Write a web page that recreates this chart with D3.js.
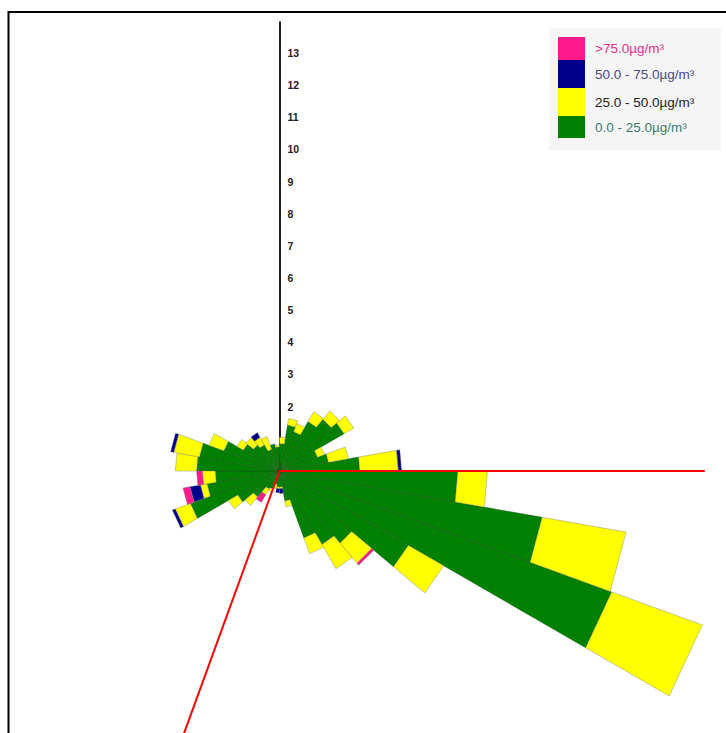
<!DOCTYPE html>
<html>
<head>
<meta charset="utf-8">
<script src="https://cdn.jsdelivr.net/npm/d3@7"></script>
<style>
  html, body { margin: 0; padding: 0; background: #fff; }
  svg { display: block; }
</style>
</head>
<body>
<svg id="chart" width="726" height="733"></svg>
<script>
// ---- Data (bearing of sector start, degrees; 10° sectors) ----
const bearings = d3.range(0, 360, 10);
// frequency per concentration class, stacked outward
const green   = [0.85,1.45,1.3,1.78,2.1,2.32,1.26,1.55,2.5,5.55,8.3,11.0,4.63,2.93,2.64,2.22,0.95,0.5,0.5,0.42,0.6,0.65,1.06,1.5,2.95,2.29,2.0,2.58,2.53,1.84,1.3,1.06,0.94,0.72,0.85,0.75];
const yellow  = [0.2,0.21,0.27,0.35,0.34,0.35,0.23,0.63,1.2,0.92,2.65,3.0,1.27,0.82,0.87,0.52,0.18,0.05,0.05,0.14,0.1,0.2,0.34,0.33,0.5,0.21,0.4,0.66,0.81,0.5,0.23,0.3,0.27,0.42,0,0.05];
const blue    = [0,0,0,0,0,0,0,0,0.1,0,0,0,0,0,0,0,0,0.15,0.13,0,0,0,0,0,0.1,0.33,0,0,0.1,0,0,0,0.17,0,0,0];
const magenta = [0,0,0,0,0,0,0,0,0,0,0,0,0,0.08,0,0,0,0,0,0,0,0.28,0,0,0,0.22,0.18,0,0,0,0,0,0,0,0,0];
const seriesNames  = ["0.0 - 25.0µg/m³", "25.0 - 50.0µg/m³", "50.0 - 75.0µg/m³", ">75.0µg/m³"];
const seriesColors = ["#008000", "#ffff00", "#00008b", "#ff1a8c"];
const legendTextColors = ["#3a7d6a", "#222222", "#4a4a8a", "#e8308a"];
const tickValues = d3.range(2, 14);
const refLines = [{bearing: 90, length: 13.23}, {bearing: 200, length: 14}];

// ---- Layout ----
const cx = 279.5, cy = 471;
const maxR = 14;
const r = d3.scaleLinear().domain([0, maxR]).range([0, 450]);
const sectorWidth = 10;

const svg = d3.select("#chart");

// frame
svg.append("rect")
  .attr("x", 8.5).attr("y", 12).attr("width", 760).attr("height", 760)
  .attr("fill", "none").attr("stroke", "#000").attr("stroke-width", 2);

// vertical radial axis
const y = d3.scaleLinear().domain([0, maxR]).range([cy, cy - r(maxR)]);
const axis = d3.axisRight(y).tickValues(tickValues).tickSize(0).tickSizeOuter(0).tickPadding(8)
  .tickFormat(d3.format("d"));
const gAxis = svg.append("g").attr("transform", `translate(${cx},0)`).call(axis);
gAxis.select(".domain").attr("stroke", "#222").attr("stroke-width", 2);
gAxis.selectAll("text")
  .attr("font-family", "'Liberation Sans', Arial, sans-serif")
  .attr("font-weight", "bold").attr("font-size", 10.5).attr("fill", "#222");

// stacked sectors
const layers = [green, yellow, blue, magenta];
const radial = d3.lineRadial().angle(d => d[0]).radius(d => d[1]).curve(d3.curveLinearClosed);
const toRad = deg => deg * Math.PI / 180;
const gBars = svg.append("g").attr("transform", `translate(${cx},${cy})`);

const pieces = [];
bearings.forEach((b, i) => {
  let base = 0;
  layers.forEach((arr, k) => {
    const v = arr[i];
    if (v > 0) {
      pieces.push({b, k, inner: base, outer: base + v});
      base += v;
    }
  });
});
pieces.sort((a, c) => a.k - c.k);
gBars.selectAll("path.sector").data(pieces).join("path")
  .attr("class", "sector")
  .attr("d", d => {
    const a0 = toRad(d.b), a1 = toRad(d.b + sectorWidth);
    return radial([[a0, r(d.inner)], [a1, r(d.inner)], [a1, r(d.outer)], [a0, r(d.outer)]]);
  })
  .attr("fill", d => seriesColors[d.k])
  .attr("stroke", d => d.k === 0 ? "#1c4d1c" : "#777")
  .attr("stroke-width", 0.5)
  .attr("stroke-opacity", 0.8);

// red reference lines
const gRef = svg.append("g").attr("transform", `translate(${cx},${cy})`);
gRef.selectAll("path").data(refLines).join("path")
  .attr("d", d => d3.lineRadial()([[toRad(d.bearing), 0], [toRad(d.bearing), r(d.length)]]))
  .attr("fill", "none").attr("stroke", "#ff0000").attr("stroke-width", 2);

// legend
const lg = svg.append("g");
lg.append("rect").attr("x", 549).attr("y", 28).attr("width", 172).attr("height", 122)
  .attr("fill", "#f5f5f5");
const order = [3, 2, 1, 0];
const rowH = [23, 28, 28, 22];
let yy = 37;
order.forEach((k, j) => {
  lg.append("rect").attr("x", 558).attr("y", yy).attr("width", 27).attr("height", rowH[j])
    .attr("fill", seriesColors[k]);
  lg.append("text").attr("x", 595).attr("y", yy + rowH[j] / 2)
    .attr("dominant-baseline", "central")
    .attr("font-family", "'Liberation Sans', Arial, sans-serif")
    .attr("font-size", 13.5).attr("fill", legendTextColors[k])
    .text(seriesNames[k]);
  yy += rowH[j];
});
</script>
</body>
</html>
